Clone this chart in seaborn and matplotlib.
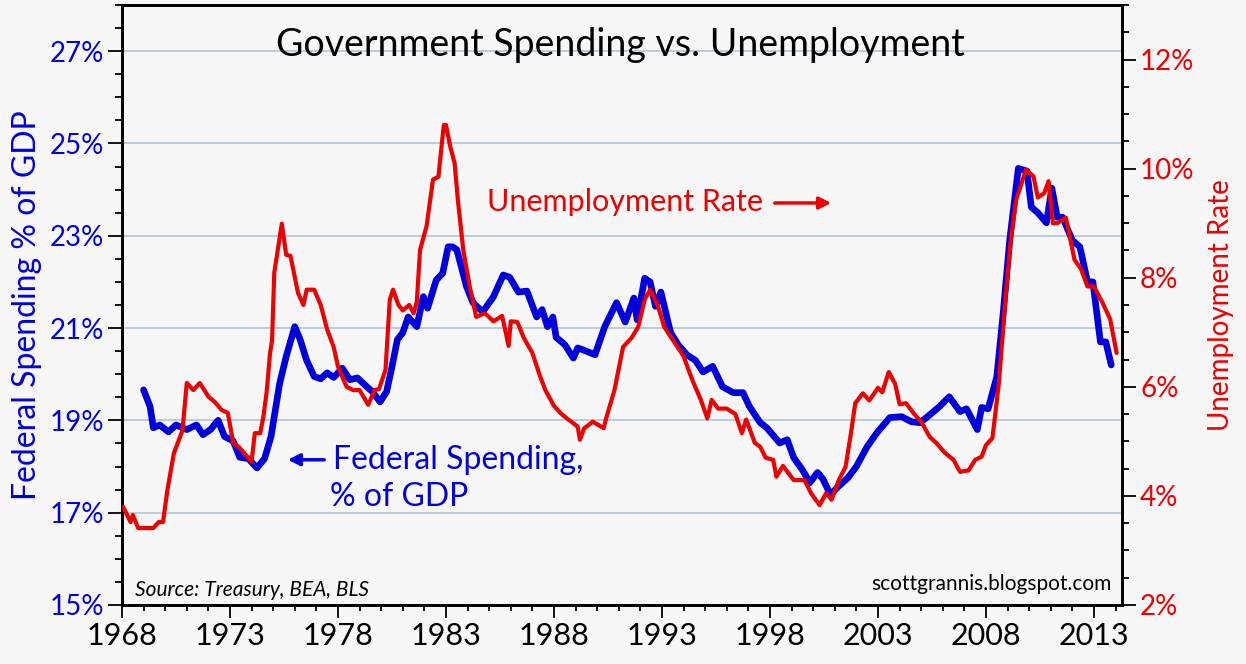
import matplotlib
matplotlib.use("Agg")
import matplotlib.pyplot as plt
from matplotlib.ticker import MultipleLocator, FuncFormatter
import seaborn as sns

# Federal spending, % of GDP
spend_year = [1969.0, 1969.3, 1969.45, 1969.75, 1970.15, 1970.5, 1971.0, 1971.45, 1971.75, 1972.1,
              1972.45, 1972.75, 1973.15, 1973.45, 1973.85, 1974.25, 1974.6, 1974.9, 1975.3, 1975.6,
              1976.0, 1976.25, 1976.55, 1976.9, 1977.2, 1977.5, 1977.8, 1978.2, 1978.55, 1978.9,
              1979.4, 1979.6, 1979.95, 1980.25, 1980.5, 1980.75, 1981.0, 1981.25, 1981.65, 1981.95,
              1982.15, 1982.55, 1982.85, 1983.1, 1983.3, 1983.5, 1983.95, 1984.25, 1984.7, 1985.2,
              1985.65, 1985.95, 1986.35, 1986.75, 1987.2, 1987.45, 1987.7, 1987.95, 1988.1, 1988.5,
              1988.9, 1989.1, 1989.5, 1989.9, 1990.35, 1990.9, 1991.3, 1991.7, 1991.85, 1992.2,
              1992.45, 1992.7, 1992.95, 1993.4, 1993.75, 1994.15, 1994.55, 1994.9, 1995.35, 1995.8,
              1996.3, 1996.75, 1997.05, 1997.55, 1997.85, 1998.45, 1998.8, 1999.1, 1999.5, 1999.85,
              2000.2, 2000.45, 2000.8, 2001.15, 2001.6, 2002.0, 2002.5, 2002.95, 2003.55, 2004.1,
              2004.55, 2004.95, 2005.4, 2005.85, 2006.3, 2006.8, 2007.1, 2007.6, 2007.8, 2008.1,
              2008.5, 2008.8, 2009.1, 2009.5, 2009.9, 2010.1, 2010.4, 2010.8, 2011.05, 2011.3,
              2011.55, 2012.0, 2012.35, 2012.7, 2012.95, 2013.3, 2013.55, 2013.8]
spend_pct = [19.66, 19.3, 18.84, 18.9, 18.75, 18.9, 18.8, 18.9, 18.69, 18.8,
             19.0, 18.65, 18.55, 18.2, 18.17, 17.97, 18.17, 18.65, 19.8, 20.38,
             21.03, 20.75, 20.3, 19.95, 19.9, 20.03, 19.93, 20.13, 19.88, 19.92,
             19.7, 19.62, 19.4, 19.62, 20.16, 20.75, 20.9, 21.24, 21.03, 21.68,
             21.43, 22.04, 22.19, 22.76, 22.76, 22.7, 21.9, 21.55, 21.35, 21.68,
             22.15, 22.1, 21.78, 21.8, 21.24, 21.4, 21.03, 21.24, 20.8, 20.64,
             20.35, 20.57, 20.5, 20.42, 21.03, 21.55, 21.13, 21.65, 21.18, 22.08,
             22.0, 21.47, 21.78, 20.9, 20.64, 20.42, 20.3, 20.05, 20.17, 19.73,
             19.6, 19.6, 19.3, 18.95, 18.84, 18.51, 18.58, 18.19, 17.93, 17.65,
             17.87, 17.73, 17.39, 17.56, 17.75, 18.0, 18.43, 18.73, 19.06, 19.08,
             18.97, 18.95, 19.12, 19.3, 19.51, 19.19, 19.25, 18.8, 19.28, 19.25,
             19.94, 21.33, 22.9, 24.46, 24.4, 23.62, 23.5, 23.28, 24.03, 23.4,
             23.4, 22.9, 22.76, 22.0, 22.0, 20.7, 20.7, 20.2]

# Unemployment rate, %
unemp_year = [1968.05, 1968.4, 1968.5, 1968.75, 1969.45, 1969.7, 1969.9, 1970.1, 1970.4, 1970.8,
              1971.0, 1971.3, 1971.6, 1972.0, 1972.3, 1972.6, 1972.9, 1973.15, 1973.4, 1973.8,
              1974.0, 1974.15, 1974.4, 1974.55, 1974.7, 1974.85, 1974.95, 1975.05, 1975.4, 1975.6,
              1975.8, 1976.15, 1976.4, 1976.55, 1976.9, 1977.2, 1977.5, 1977.8, 1978.0, 1978.4,
              1978.7, 1979.0, 1979.4, 1979.7, 1979.9, 1980.2, 1980.4, 1980.55, 1980.8, 1981.0,
              1981.3, 1981.5, 1981.65, 1981.8, 1982.1, 1982.4, 1982.65, 1982.9, 1983.0, 1983.2,
              1983.4, 1983.55, 1983.8, 1984.1, 1984.4, 1984.8, 1985.2, 1985.6, 1985.9, 1986.0,
              1986.3, 1986.6, 1987.0, 1987.35, 1987.6, 1988.0, 1988.3, 1988.5, 1989.1, 1989.2,
              1989.4, 1989.8, 1990.3, 1990.4, 1990.8, 1991.2, 1991.6, 1991.9, 1992.2, 1992.45,
              1992.8, 1993.1, 1993.6, 1994.0, 1994.4, 1994.8, 1995.1, 1995.3, 1995.6, 1996.0,
              1996.4, 1996.7, 1996.9, 1997.3, 1997.55, 1997.8, 1998.15, 1998.3, 1998.6, 1999.1,
              1999.6, 1999.9, 2000.3, 2000.6, 2000.85, 2001.2, 2001.5, 2001.75, 2001.95, 2002.3,
              2002.6, 2003.0, 2003.2, 2003.5, 2003.8, 2004.0, 2004.3, 2004.7, 2005.0, 2005.4,
              2005.7, 2006.1, 2006.5, 2006.8, 2007.2, 2007.5, 2007.8, 2008.0, 2008.3, 2008.6,
              2008.9, 2009.15, 2009.4, 2009.6, 2009.85, 2010.2, 2010.4, 2010.7, 2010.9, 2011.1,
              2011.3, 2011.7, 2012.1, 2012.4, 2012.7, 2013.0, 2013.4, 2013.75, 2014.05]
unemp_rate = [3.8, 3.52, 3.65, 3.41, 3.41, 3.52, 3.52, 4.1, 4.78, 5.2,
              6.07, 5.94, 6.07, 5.82, 5.72, 5.58, 5.52, 4.97, 4.9, 4.72,
              4.63, 5.15, 5.15, 5.46, 5.91, 6.6, 6.86, 8.09, 8.99, 8.42,
              8.4, 7.72, 7.5, 7.78, 7.78, 7.5, 7.05, 6.73, 6.37, 6.0,
              5.94, 5.94, 5.67, 5.94, 5.96, 6.31, 7.6, 7.78, 7.5, 7.4,
              7.5, 7.35, 7.56, 8.51, 8.94, 9.8, 9.85, 10.8, 10.8, 10.4,
              10.1, 9.43, 8.51, 7.84, 7.28, 7.35, 7.2, 7.3, 6.75, 7.2,
              7.19, 6.9, 6.62, 6.2, 5.94, 5.65, 5.52, 5.45, 5.27, 5.03,
              5.24, 5.36, 5.24, 5.4, 5.94, 6.73, 6.9, 7.1, 7.6, 7.78,
              7.5, 7.1, 6.8, 6.56, 6.13, 5.76, 5.42, 5.76, 5.6, 5.6,
              5.5, 5.15, 5.4, 4.97, 4.9, 4.7, 4.66, 4.35, 4.55, 4.29,
              4.29, 4.05, 3.83, 4.05, 3.93, 4.3, 4.53, 5.15, 5.7, 5.88,
              5.75, 5.98, 5.9, 6.27, 6.05, 5.68, 5.7, 5.49, 5.36, 5.08,
              4.97, 4.79, 4.66, 4.44, 4.47, 4.66, 4.72, 4.93, 5.06, 6.07,
              7.6, 8.7, 9.43, 9.67, 9.98, 9.86, 9.47, 9.55, 9.77, 9.0,
              9.0, 9.1, 8.33, 8.16, 7.84, 7.84, 7.54, 7.24, 6.62]

year_ticks = [1968, 1973, 1978, 1983, 1988, 1993, 1998, 2003, 2008, 2013]
left_ticks = [15, 17, 19, 21, 23, 25, 27]
right_ticks = [2, 4, 6, 8, 10, 12]

BLUE = "#0000dd"
RED = "#ee0000"
BG = "#f7f7f7"

sns.set_style("ticks")
plt.rcParams["font.family"] = ["Lato", "DejaVu Sans"]

fig = plt.figure(figsize=(12.46, 6.64), dpi=100, facecolor=BG)
ax = fig.add_axes([0.0979, 0.0889, 0.8026, 0.9036])
ax.set_facecolor(BG)

sns.lineplot(x=spend_year, y=spend_pct, ax=ax, color=BLUE, linewidth=4.8, zorder=3)

ax2 = ax.twinx()
sns.lineplot(x=unemp_year, y=unemp_rate, ax=ax2, color=RED, linewidth=3, zorder=4)

ax.set_xlim(1968, 2014.3)
ax.set_ylim(15, 28)
ax2.set_ylim(2, 13)

ax.set_xticks(year_ticks)
ax.xaxis.set_minor_locator(MultipleLocator(1))
ax.set_yticks(left_ticks)
ax.yaxis.set_minor_locator(MultipleLocator(0.5))
ax2.set_yticks(right_ticks)
ax2.yaxis.set_minor_locator(MultipleLocator(0.5))

pct = FuncFormatter(lambda v, p: f"{v:.0f}%")
ax.yaxis.set_major_formatter(pct)
ax2.yaxis.set_major_formatter(pct)
ax.xaxis.set_major_formatter(FuncFormatter(lambda v, p: f"{v:.0f}"))

ax.grid(False)
for g in left_ticks[1:]:
    ax.axhline(g, color="#b9ccdc", linewidth=1.4, zorder=1)

for a in (ax, ax2):
    for s in a.spines.values():
        s.set_color("black")
        s.set_linewidth(2)

ax.tick_params(axis="x", which="major", length=9, width=1.3, colors="black",
               labelsize=22, pad=3)
ax.tick_params(axis="x", which="minor", length=4, width=1.3, colors="black")
ax.tick_params(axis="y", which="major", length=10, width=1.3, color="black",
               labelcolor=BLUE, labelsize=20, pad=3)
ax.tick_params(axis="y", which="minor", length=5, width=1.3, color="black")
ax2.tick_params(axis="y", which="major", length=10, width=1.3, color="black",
                labelcolor=RED, labelsize=20, pad=3)
ax2.tick_params(axis="y", which="minor", length=5, width=1.3, color="black")

ax.set_xlabel("")
ax.set_ylabel("Federal Spending % of GDP", color=BLUE, fontsize=23, labelpad=5)
ax2.set_ylabel("Unemployment Rate", color=RED, fontsize=20, labelpad=10)

ax.text(0.498, 0.933, "Government Spending vs. Unemployment", transform=ax.transAxes,
        ha="center", va="center", fontsize=27, color="black", zorder=6)
ax.text(0.365, 0.672, "Unemployment Rate", transform=ax.transAxes,
        ha="left", va="center", fontsize=22, color=RED, zorder=6)
ax.annotate("", xy=(0.712, 0.67), xytext=(0.65, 0.67), xycoords="axes fraction",
            arrowprops=dict(arrowstyle="-|>,head_length=0.7,head_width=0.35",
                            color=RED, lw=2.5), zorder=6)
ax.text(0.211, 0.242, "Federal Spending,", transform=ax.transAxes,
        ha="left", va="center", fontsize=23, color=BLUE, zorder=6)
ax.text(0.208, 0.18, "% of GDP", transform=ax.transAxes,
        ha="left", va="center", fontsize=23, color=BLUE, zorder=6)
ax.annotate("", xy=(0.163, 0.242), xytext=(0.205, 0.242), xycoords="axes fraction",
            arrowprops=dict(arrowstyle="-|>,head_length=0.7,head_width=0.35",
                            color=BLUE, lw=2.5), zorder=6)
ax.text(0.013, 0.025, "Source: Treasury, BEA, BLS", transform=ax.transAxes,
        ha="left", va="center", fontsize=15, style="italic", color="black", zorder=6)
ax.text(0.99, 0.035, "scottgrannis.blogspot.com", transform=ax.transAxes,
        ha="right", va="center", fontsize=15, color="black", zorder=6)

fig.savefig("out.png", dpi=100, facecolor=BG)
